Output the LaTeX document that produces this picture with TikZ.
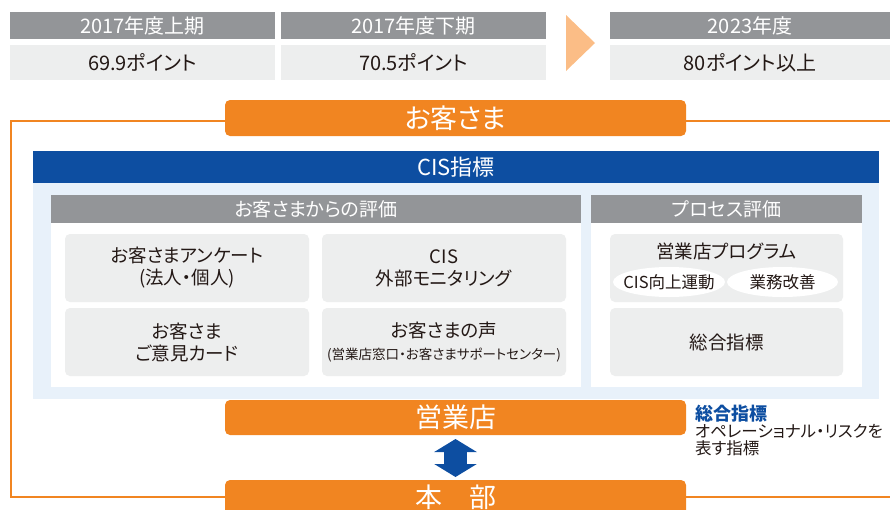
\documentclass[tikz,border=0pt]{standalone}
\usepackage{fontspec}
\setmainfont{Noto Sans CJK JP}[RawFeature=+palt]
\usetikzlibrary{arrows.meta, positioning}
\definecolor{cisgray}{HTML}{939598}
\definecolor{cislight}{HTML}{EDEEEE}
\definecolor{cisorange}{HTML}{F18521}
\definecolor{cispeach}{HTML}{FBBD86}
\definecolor{cisblue}{HTML}{0D4EA1}
\definecolor{cissky}{HTML}{E8F1FA}
\definecolor{cisink}{HTML}{231815}
\begin{document}
\begin{tikzpicture}[x=1pt, y=-1pt, node distance=6pt, every node/.style={inner sep=0pt, outer sep=0pt, align=center, text=cisink}]
    \tikzset{head/.style={fill=cisgray, text=white, minimum width=265pt, minimum height=27pt, font=\fontsize{20}{22}\selectfont},
      score/.style={fill=cislight, minimum width=265pt, minimum height=35pt, font=\fontsize{20}{22}\selectfont},
      pill/.style={fill=cisorange, rounded corners=5pt, minimum width=461pt, minimum height=36pt, text=white, font=\fontsize{27}{30}\selectfont},
      bar/.style={fill=cisgray, text=white, minimum height=28pt, font=\fontsize{19}{21}\selectfont},
      sheet/.style={fill=white, minimum height=164pt},
      block/.style={fill=cislight, rounded corners=5pt, minimum width=244pt, minimum height=68pt, font=\fontsize{18.5}{22}\selectfont},
      tag/.style={font=\fontsize{16.5}{18}\selectfont}}
    \useasboundingbox (0,0) rectangle (890,509);
    \clip (0,0) rectangle (890,509);
    \node[head] (H1) at (142.5,25.5) {2017年度上期};
    \node[score, below=of H1] (B1) {69.9ポイント};
    \node[head, right=of H1] (H2) {2017年度下期};
    \node[score, below=of H2] (B2) {70.5ポイント};
    \node[head, minimum width=280pt] (H3) at (750,25.5) {2023年度};
    \node[score, minimum width=280pt, below=of H3] (B3) {80ポイント以上};
    \fill[cispeach] (566,15) -- (595,43) -- (566,71) -- cycle;
    \draw[cisorange, line width=2.2pt] (890,121) -- (11,121) -- (11,497) -- (890,497);
    \node[pill] (cust) at (455.5,118) {お客さま};
    \node[fill=cisblue, text=white, minimum width=846pt, minimum height=32pt, font=\fontsize{22}{24}\selectfont] (cis) at (456,167) {CIS指標};
    \node[fill=cissky, minimum width=846pt, minimum height=216pt, below=0pt of cis] (panel) {};
    \node[bar, minimum width=530pt] (evalL) at (316,209) {お客さまからの評価};
    \node[sheet, minimum width=530pt, below=0pt of evalL] (sheetL) {};
    \node[bar, minimum width=271pt] (evalR) at (726.5,209) {プロセス評価};
    \node[sheet, minimum width=271pt, below=0pt of evalR] (sheetR) {};
    \node[block] (A1) at (187,268) {お客さまアンケート\\(法人・個人)};
    \node[block, right=13pt of A1] (A2) {CIS\\外部モニタリング};
    \node[block, below=of A1] (A3) {お客さま\\ご意見カード};
    \node[block, below=of A2] (A4) {お客さまの声\\{\fontsize{13.5}{16}\selectfont(営業店窓口・お客さまサポートセンター)}};
    \node[block, minimum width=233pt] (P1) at (726.5,268) {};
    \node[block, minimum width=233pt, below=of P1] (P2) {総合指標};
    \node[font=\fontsize{18.5}{20}\selectfont] (P1t) at ([yshift=-17pt]P1.north) {営業店プログラム};
    \fill[white] (669,282) ellipse [x radius=56pt, y radius=15pt];
    \fill[white] (782.5,282) ellipse [x radius=55.5pt, y radius=15pt];
    \node[tag] (T1) at (669,282) {CIS向上運動};
    \node[tag] (T2) at (782.5,282) {業務改善};
    \node[pill, minimum height=35pt] (shop) at (455.5,417.5) {営業店};
    \node[pill, minimum height=35pt] (hq) at (455.5,497.5) {本　部};
    \draw[cisblue, line width=23pt, {Triangle[width=42pt,length=13pt]}-{Triangle[width=42pt,length=13pt]}, shorten <=4pt, shorten >=3pt] (shop) -- (hq);
    \node[anchor=north west, text=cisblue, font=\bfseries\fontsize{18}{20}\selectfont] (note) at (695,405) {総合指標};
    \node[below=2pt of note.south west, anchor=north west, align=left, font=\fontsize{16.5}{17}\selectfont] (noteText) {オペレーショナル・リスクを\\表す指標};
  \end{tikzpicture}
\end{document}
